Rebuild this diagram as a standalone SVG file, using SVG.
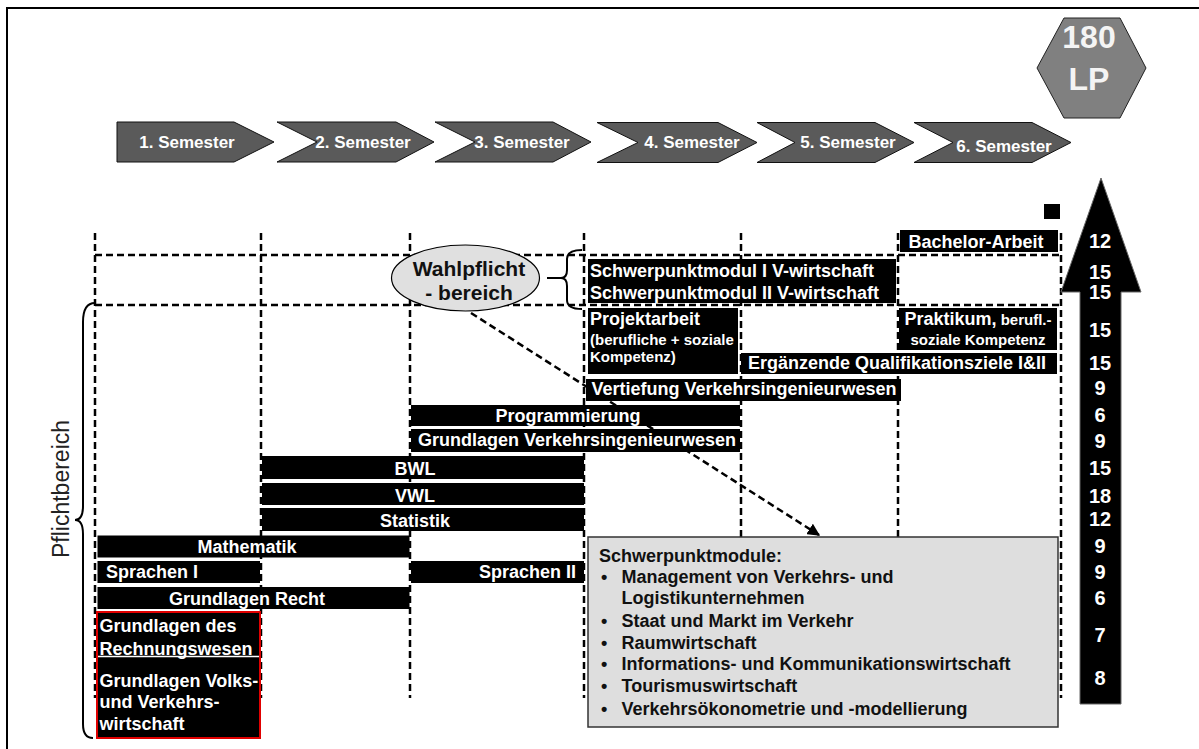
<svg xmlns="http://www.w3.org/2000/svg" width="1199" height="749" viewBox="0 0 1199 749">
<defs>
<style>
text{font-family:"Liberation Sans",Arial,sans-serif;font-weight:bold}
.sem{fill:#5a5a5a;stroke:#111;stroke-width:1}
.semt{fill:#fff;font-size:17px;text-anchor:middle}
.dash{stroke:#000;stroke-width:2.5;stroke-dasharray:7 4;fill:none}
.box{fill:#000}
.bt{fill:#fff;font-size:18px}
.sm{font-size:15px}
.mid{text-anchor:middle}
.end{text-anchor:end}
.num{fill:#fff;font-size:20px;text-anchor:middle}
.gt{fill:#111;font-size:18px}
.brace{fill:none;stroke:#000;stroke-width:2}
</style>
<marker id="ah" viewBox="0 0 10 10" refX="9" refY="5" markerWidth="5" markerHeight="5" orient="auto" markerUnits="strokeWidth">
<path d="M0,0 L10,5 L0,10 Z" fill="#000"/>
</marker>
</defs>
<rect x="0" y="0" width="1199" height="749" fill="#fff"/>
<g id="frame" stroke="#000" stroke-width="2" fill="none">
<path d="M7,749 V8 H1199"/>
</g>

<g id="grid">
<path class="dash" d="M95,233 V698 M261,233 V698 M410,233 V698 M584,233 V698 M741,233 V698 M898,233 V698 M1061,233 V698"/>
<path class="dash" d="M95,255 H1061 M95,305 H1061"/>
</g>

<g id="connectors">
<path class="dash" d="M471,313 L819,535" marker-end="url(#ah)"/>
<path d="M547,278 H561" stroke="#000" stroke-width="2"/>
</g>

<g id="semester1"><path class="sem" d="M117,122 H234 L274,142 L234,162 H117 Z"/><text class="semt" x="187" y="148">1. Semester</text></g>
<g id="semester2"><path class="sem" d="M277,122 H396 L434,142 L396,162 H277 L317,142 Z"/><text class="semt" x="363" y="148">2. Semester</text></g>
<g id="semester3"><path class="sem" d="M435,122 H553 L591,142 L553,162 H435 L475,142 Z"/><text class="semt" x="522" y="148">3. Semester</text></g>
<g id="semester4"><path class="sem" d="M597,122.5 H718 L757,142.5 L718,162.5 H597 L638,142.5 Z"/><text class="semt" x="692" y="148">4. Semester</text></g>
<g id="semester5"><path class="sem" d="M757,122.5 H875 L914,142.5 L875,162.5 H757 L795,142.5 Z"/><text class="semt" x="848" y="148">5. Semester</text></g>
<g id="semester6"><path class="sem" d="M914,122.5 H1032 L1071,142.5 L1032,162.5 H914 L953,142.5 Z"/><text class="semt" x="1004" y="151.5">6. Semester</text></g>

<g id="total">
<path d="M1037,68 L1064,18 L1120,18 L1146,68 L1120,118 L1064,118 Z" fill="#808080" stroke="#222" stroke-width="1"/>
<text x="1089" y="48" fill="#f4f4f4" font-size="32" text-anchor="middle">180</text>
<text x="1089" y="90" fill="#f4f4f4" font-size="32" text-anchor="middle">LP</text>
</g>

<g id="lp-arrow">
<path d="M1101,178 L1141,292 H1121 V704 H1080 V292 H1061 Z" fill="#000" stroke="#666" stroke-width="1"/>
<rect x="1044" y="204" width="16" height="15" fill="#000"/>
<text class="num" x="1100" y="248">12</text>
<text class="num" x="1100" y="279">15</text>
<text class="num" x="1100" y="299">15</text>
<text class="num" x="1100" y="337">15</text>
<text class="num" x="1100" y="370">15</text>
<text class="num" x="1100" y="395">9</text>
<text class="num" x="1100" y="422">6</text>
<text class="num" x="1100" y="448">9</text>
<text class="num" x="1100" y="475">15</text>
<text class="num" x="1100" y="503">18</text>
<text class="num" x="1100" y="526">12</text>
<text class="num" x="1100" y="553">9</text>
<text class="num" x="1100" y="579">9</text>
<text class="num" x="1100" y="605">6</text>
<text class="num" x="1100" y="642">7</text>
<text class="num" x="1100" y="685">8</text>
</g>

<g id="wahlpflicht">
<ellipse cx="465.5" cy="278" rx="74" ry="33" fill="#e0e0e0" stroke="#000" stroke-width="1.2"/>
<text x="469" y="276" font-size="21" fill="#111" text-anchor="middle">Wahlpflicht</text>
<text x="469" y="300" font-size="21" fill="#111" text-anchor="middle">- bereich</text>
<path class="brace" d="M582,250 Q567,250 567,259 V270 Q567,278 561,278 Q567,278 567,286 V300 Q567,309 582,309"/>
</g>

<g id="pflichtbereich">
<path class="brace" d="M95,303 Q83,303 83,322 V506 Q83,520 75,520 Q83,520 83,534 V724 Q83,738 93,738"/>
<text transform="translate(69,489) rotate(-90)" font-size="23" fill="#222" text-anchor="middle" style="font-weight:normal">Pflichtbereich</text>
</g>

<g id="bachelor"><rect class="box" x="900" y="230" width="158" height="22"/><text class="bt mid" x="976" y="248">Bachelor-Arbeit</text></g>
<g id="schwerpunkt"><rect class="box" x="588" y="259" width="308" height="44"/>
<text class="bt" x="590" y="277">Schwerpunktmodul I V-wirtschaft</text>
<text class="bt" x="590" y="298.5">Schwerpunktmodul II V-wirtschaft</text></g>
<g id="projektarbeit"><rect class="box" x="588" y="308" width="150" height="66"/>
<text class="bt" x="590" y="325">Projektarbeit</text>
<text class="bt sm" x="590" y="345">(berufliche + soziale</text>
<text class="bt sm" x="590" y="362">Kompetenz)</text></g>
<g id="praktikum"><rect class="box" x="899" y="308" width="158" height="42"/>
<text class="bt mid" x="978" y="325">Praktikum,<tspan class="sm"> berufl.-</tspan></text>
<text class="bt sm mid" x="978" y="345">soziale Kompetenz</text></g>
<g id="ergaenzende"><rect class="box" x="741" y="353" width="316" height="21"/><text class="bt mid" x="897" y="368.5">Ergänzende Qualifikationsziele I&amp;II</text></g>
<g id="vertiefung"><rect class="box" x="586" y="379" width="315" height="22"/><text class="bt mid" x="744" y="395">Vertiefung Verkehrsingenieurwesen</text></g>
<g id="programmierung"><rect class="box" x="411" y="405" width="329" height="21"/><text class="bt mid" x="568" y="421.5">Programmierung</text></g>
<g id="grundlagen-vi"><rect class="box" x="411" y="429" width="329" height="23"/><text class="bt mid" x="577" y="446">Grundlagen Verkehrsingenieurwesen</text></g>
<g id="bwl"><rect class="box" x="262" y="456" width="322" height="23"/><text class="bt mid" x="415" y="475">BWL</text></g>
<g id="vwl"><rect class="box" x="262" y="483" width="322" height="22"/><text class="bt mid" x="415" y="501.5">VWL</text></g>
<g id="statistik"><rect class="box" x="262" y="508" width="322" height="23"/><text class="bt mid" x="415" y="527">Statistik</text></g>
<g id="mathematik"><rect class="box" x="97.5" y="535.5" width="312" height="22"/><text class="bt mid" x="247" y="553">Mathematik</text></g>
<g id="sprachen1"><rect class="box" x="97.5" y="561" width="162.5" height="22"/><text class="bt" x="106" y="578">Sprachen I</text></g>
<g id="sprachen2"><rect class="box" x="411" y="561" width="173" height="22"/><text class="bt end" x="576" y="578">Sprachen II</text></g>
<g id="recht"><rect class="box" x="97.5" y="587" width="312" height="22"/><text class="bt mid" x="247" y="605">Grundlagen Recht</text></g>
<g id="grundlagen-rw-vw">
<rect x="97" y="612" width="163" height="126" fill="#000" stroke="#e00000" stroke-width="2"/>
<path d="M98,656.5 H259" stroke="#fff" stroke-width="1.5"/>
<text class="bt" x="99.5" y="632">Grundlagen des</text>
<text class="bt" x="99.5" y="654.5">Rechnungswesen</text>
<text class="bt" x="99.5" y="687">Grundlagen Volks-</text>
<text class="bt" x="99.5" y="708">und Verkehrs-</text>
<text class="bt" x="99.5" y="729.5">wirtschaft</text>
</g>

<g id="schwerpunktmodule-box">
<rect x="588" y="537" width="470" height="190" fill="#dedede" stroke="#333" stroke-width="1.5"/>
<text class="gt" x="599" y="562">Schwerpunktmodule:</text>
<text class="gt" x="601" y="583">•</text><text class="gt" x="621.5" y="583">Management von Verkehrs- und</text>
<text class="gt" x="621.5" y="604">Logistikunternehmen</text>
<text class="gt" x="601" y="627">•</text><text class="gt" x="621.5" y="627">Staat und Markt im Verkehr</text>
<text class="gt" x="601" y="648.5">•</text><text class="gt" x="621.5" y="648.5">Raumwirtschaft</text>
<text class="gt" x="601" y="670">•</text><text class="gt" x="621.5" y="670">Informations- und Kommunikationswirtschaft</text>
<text class="gt" x="601" y="692">•</text><text class="gt" x="621.5" y="692">Tourismuswirtschaft</text>
<text class="gt" x="601" y="715">•</text><text class="gt" x="621.5" y="715">Verkehrsökonometrie und -modellierung</text>
</g>
</svg>
